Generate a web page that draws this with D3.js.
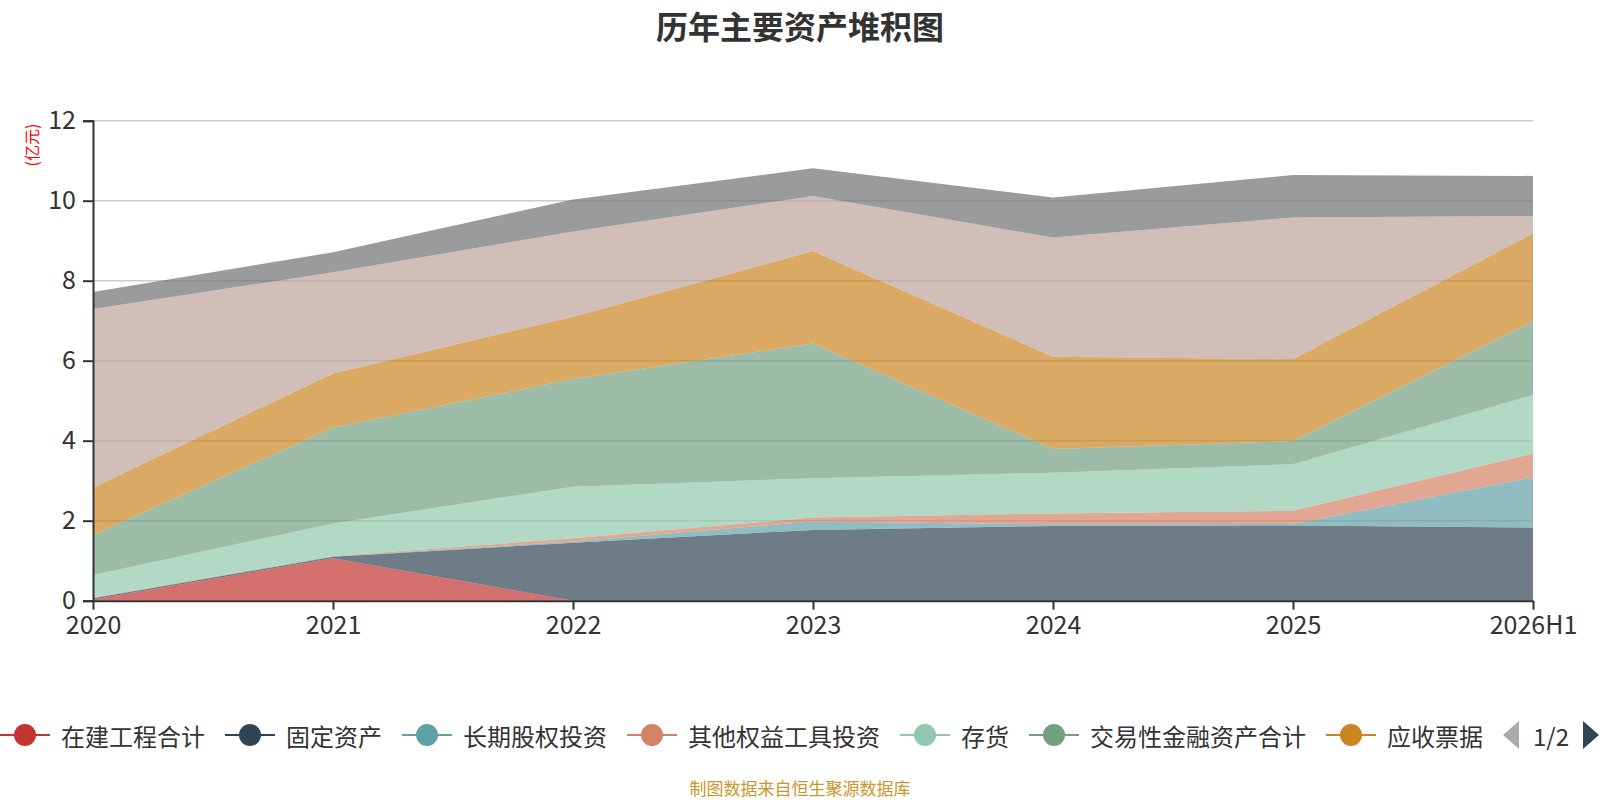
<!DOCTYPE html>
<html>
<head>
<meta charset="utf-8">
<script src="https://cdn.jsdelivr.net/npm/d3@7"></script>
<style>
	body { margin: 0; background: #fff; }
	svg { display: block; font-family: "Noto Sans CJK SC", "Noto Sans", sans-serif; }
</style>
</head>
<body>
<svg id="chart" width="1600" height="800"></svg>
<script>
// categories
var years = ["2020", "2021", "2022", "2023", "2024", "2025", "2026H1"];

// series values (亿元), bottom of the stack first
var zaiJianGongCheng = [0.03, 1.06, 0, 0, 0, 0, 0];
var guDingZiChan = [0.03, 0.04, 1.45, 1.77, 1.87, 1.88, 1.83];
var changQiGuQuan = [0.01, 0.01, 0.03, 0.21, 0.04, 0.04, 1.25];
var qiTaQuanYi = [0.01, 0.01, 0.08, 0.10, 0.27, 0.33, 0.60];
var cunHuo = [0.56, 0.81, 1.29, 0.98, 1.02, 1.16, 1.46];
var jiaoYiXing = [1.00, 2.40, 2.69, 3.37, 0.59, 0.58, 1.84];
var yingShouPiaoJu = [1.19, 1.35, 1.56, 2.31, 2.31, 2.05, 2.20];
var yingShouZhangKuan = [4.46, 2.53, 2.13, 1.38, 2.98, 3.54, 0.44];
var huoBiZiJin = [0.43, 0.50, 0.80, 0.69, 1.00, 1.06, 1.00];

var yTicks = [0, 2, 4, 6, 8, 10, 12];

var seriesList = [
	{ name: "在建工程合计", values: zaiJianGongCheng },
	{ name: "固定资产", values: guDingZiChan },
	{ name: "长期股权投资", values: changQiGuQuan },
	{ name: "其他权益工具投资", values: qiTaQuanYi },
	{ name: "存货", values: cunHuo },
	{ name: "交易性金融资产合计", values: jiaoYiXing },
	{ name: "应收票据", values: yingShouPiaoJu },
	{ name: "应收账款", values: yingShouZhangKuan },
	{ name: "货币资金", values: huoBiZiJin }
];
var legendShown = 7; // legend page 1/2

var palette = ["#c23531", "#2f4554", "#61a0a8", "#d48265", "#91c7ae", "#749f83", "#ca8622", "#bda29a", "#6e7074"];

(function () {
	// table for d3.stack
	var table = years.map((yr, i) => {
		var row = { year: yr };
		seriesList.forEach(s => row[s.name] = s.values[i]);
		return row;
	});

	var svg = d3.select("#chart");
	var plotLeft = 93, plotRight = 1533, plotTop = 120.7, plotBottom = 600.7;

	var x = d3.scalePoint()
		.domain(years)
		.range([plotLeft, plotRight]);

	var y = d3.scaleLinear()
		.domain([0, 12])
		.range([plotBottom, plotTop]);

	var z = d3.scaleOrdinal()
		.domain(seriesList.map(s => s.name))
		.range(palette);

	// title
	svg.append("text")
		.attr("x", 800)
		.attr("y", 25)
		.attr("text-anchor", "middle")
		.attr("dominant-baseline", "central")
		.attr("font-size", "32px")
		.attr("font-weight", "bold")
		.attr("fill", "#333")
		.text("历年主要资产堆积图");

	// unit label
	svg.append("text")
		.attr("transform", "translate(31,145) rotate(-90)")
		.attr("text-anchor", "middle")
		.attr("dominant-baseline", "central")
		.attr("font-size", "16px")
		.attr("fill", "#ff0000")
		.text("(亿元)");

	// grid lines
	svg.append("g")
		.selectAll("line")
		.data(yTicks.slice(1))
		.join("line")
			.attr("x1", plotLeft)
			.attr("x2", plotRight)
			.attr("y1", d => y(d))
			.attr("y2", d => y(d))
			.attr("stroke", "#ccc")
			.attr("stroke-width", 1.5);

	var stacked = d3.stack().keys(seriesList.map(s => s.name))(table);

	var area = d3.area()
		.x(d => x(d.data.year))
		.y0(d => y(d[0]))
		.y1(d => y(d[1]));

	svg.append("g")
		.selectAll("path")
		.data(stacked)
		.join("path")
			.attr("fill", d => z(d.key))
			.attr("fill-opacity", 0.7)
			.attr("d", area);

	// y axis
	var yAxis = g => g
		.attr("transform", `translate(${plotLeft},0)`)
		.call(d3.axisLeft(y).tickValues(yTicks).tickSize(10).tickPadding(7))
		.call(g => g.selectAll(".domain").attr("stroke", "#333").attr("stroke-width", 2))
		.call(g => g.selectAll(".tick line").attr("stroke", "#333").attr("stroke-width", 2))
		.call(g => g.selectAll(".tick text")
			.attr("font-size", "25px")
			.attr("font-family", "Noto Sans CJK SC")
			.attr("fill", "#333"));

	// x axis
	var xAxis = g => g
		.attr("transform", `translate(0,${plotBottom})`)
		.call(d3.axisBottom(x).tickSize(9).tickPadding(7).tickSizeOuter(0))
		.call(g => g.selectAll(".domain").attr("stroke", "#333").attr("stroke-width", 2))
		.call(g => g.selectAll(".tick line").attr("stroke", "#333").attr("stroke-width", 2))
		.call(g => g.selectAll(".tick text")
			.attr("font-size", "25px")
			.attr("font-family", "Noto Sans CJK SC")
			.attr("fill", "#333"));

	svg.append("g").call(xAxis);
	svg.append("g").call(yAxis);

	// legend, first page only
	var legend = svg.append("g").attr("transform", "translate(0,735)");
	var lx = 0;
	seriesList.slice(0, legendShown).forEach(s => {
		var item = legend.append("g").attr("transform", `translate(${lx},0)`);
		item.append("line")
			.attr("x1", 0).attr("x2", 50)
			.attr("stroke", z(s.name))
			.attr("stroke-width", 2);
		item.append("circle")
			.attr("cx", 25)
			.attr("r", 11)
			.attr("fill", z(s.name));
		var t = item.append("text")
			.attr("x", 61)
			.attr("dominant-baseline", "central")
			.attr("font-size", "24px")
			.attr("fill", "#333")
			.text(s.name);
		lx += 61 + t.node().getComputedTextLength() + 20;
	});

	// pager
	var pager = legend.append("g").attr("transform", `translate(${lx},0)`);
	pager.append("path")
		.attr("d", "M0,0L16,-14L16,14Z")
		.attr("fill", "#aaa");
	pager.append("text")
		.attr("x", 48)
		.attr("text-anchor", "middle")
		.attr("dominant-baseline", "central")
		.attr("font-size", "24px")
		.attr("fill", "#333")
		.text("1/2");
	pager.append("path")
		.attr("d", "M80,-14L96,0L80,14Z")
		.attr("fill", "#2f4554");

	// source note
	svg.append("text")
		.attr("x", 800)
		.attr("y", 787)
		.attr("text-anchor", "middle")
		.attr("dominant-baseline", "central")
		.attr("font-size", "17px")
		.attr("fill", "#c9962b")
		.text("制图数据来自恒生聚源数据库");
})();
</script>
</body>
</html>
